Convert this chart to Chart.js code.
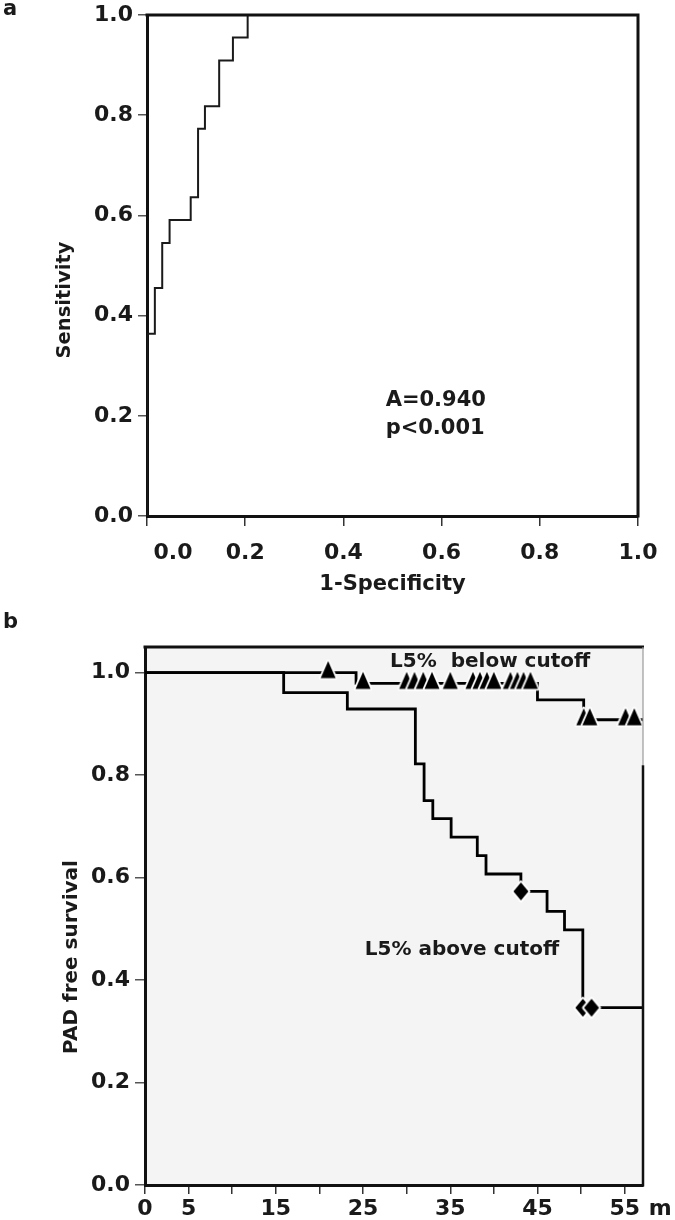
<!DOCTYPE html>
<html><head><meta charset="utf-8">
<script src="https://cdn.jsdelivr.net/npm/chart.js@4/dist/chart.umd.min.js"></script>
<style>
html,body{margin:0;padding:0;background:#fff;}
#wrap{position:relative;width:675px;height:1220px;overflow:hidden;background:#fff;}
canvas{position:absolute;left:0;}
#c1{top:0;} #c2{top:605px;}
</style></head><body>
<div id="wrap"><canvas id="c1" width="675" height="605"></canvas><canvas id="c2" width="675" height="615"></canvas></div>
<script>
// ---------- Panel a: ROC curve ----------
const rocFpr = [0, 0, 0.016, 0.031, 0.046, 0.089, 0.104, 0.118, 0.147, 0.175, 0.205, 1.0];
const rocTpr = [0, 0.364, 0.455, 0.545, 0.591, 0.636, 0.773, 0.818, 0.909, 0.955, 1.0, 1.0];
const rocXTicks = [0, 0.2, 0.4, 0.6, 0.8, 1.0];
const rocYTicks = [0, 0.2, 0.4, 0.6, 0.8, 1.0];
const rocTexts = ['A=0.940', 'p<0.001'];
const rocTextAt = [[0.486, 0.22], [0.486, 0.164]];

// ---------- Panel b: Kaplan-Meier ----------
const kmXTicks = [0, 5, 10, 15, 20, 25, 30, 35, 40, 45, 50, 55];
const kmXLabels = [0, 5, 15, 25, 35, 45, 55];
const kmYTicks = [0, 0.2, 0.4, 0.6, 0.8, 1.0];
const belowTimes = [0, 24.2, 45.0, 50.3, 57.1];
const belowSurv = [1.0, 0.979, 0.947, 0.908, 0.908];
const belowCensorTimes = [21.0, 25.0, 30.0, 30.9, 31.9, 32.9, 35.0, 37.6, 38.4, 39.2, 40.0, 41.9, 42.7, 43.4, 44.2, 50.3, 51.0, 55.1, 56.1];
const belowCensorSurv = [1.0, 0.979, 0.979, 0.979, 0.979, 0.979, 0.979, 0.979, 0.979, 0.979, 0.979, 0.979, 0.979, 0.979, 0.979, 0.908, 0.908, 0.908, 0.908];
const aboveTimes = [0, 15.9, 23.2, 31.0, 32.0, 33.0, 35.1, 38.1, 39.1, 43.1, 46.1, 48.1, 50.2, 57.1];
const aboveSurv = [1.0, 0.961, 0.929, 0.822, 0.750, 0.715, 0.679, 0.643, 0.607, 0.573, 0.534, 0.498, 0.346, 0.346];
const aboveCensorTimes = [43.1, 50.2, 51.2];
const aboveCensorSurv = [0.573, 0.346, 0.346];
const groupLabels = ['L5%  below cutoff', 'L5% above cutoff'];
const groupLabelAt = [[28.1, 1.011], [25.2, 0.449]];

const FAM = "'DejaVu Sans'";
const INK = '#1a1a1a';
const pts = (xs, ys) => xs.map((x, i) => ({x, y: ys[i]}));

// marker images
function triImg() {
  const c = document.createElement('canvas'); c.width = 22; c.height = 28;
  const g = c.getContext('2d');
  g.beginPath(); g.moveTo(11, 2.5); g.lineTo(18.5, 19.5); g.lineTo(3.5, 19.5); g.closePath();
  g.lineJoin = 'round'; g.strokeStyle = '#fff'; g.lineWidth = 3.5; g.stroke();
  g.fillStyle = '#000'; g.fill();
  return c;
}
function diaImg() {
  const c = document.createElement('canvas'); c.width = 22; c.height = 24;
  const g = c.getContext('2d');
  g.beginPath(); g.moveTo(11, 3); g.lineTo(18.5, 12); g.lineTo(11, 21); g.lineTo(3.5, 12); g.closePath();
  g.lineJoin = 'round'; g.strokeStyle = '#fff'; g.lineWidth = 4; g.stroke();
  g.fillStyle = '#000'; g.fill();
  return c;
}

function yScale(min, max, ticks, width, tl) {
  return {
    type: 'linear', position: 'left', min, max,
    afterBuildTicks: s => { s.ticks = ticks.map(v => ({value: v})); },
    afterFit: s => { s.width = width; s.paddingTop = 0; s.paddingBottom = 0; },
    ticks: {font: {family: FAM, weight: 'bold', size: 22}, color: INK, padding: 5,
            autoSkip: false, callback: v => Number(v).toFixed(1)},
    grid: {drawOnChartArea: false, drawTicks: true, tickLength: tl, color: '#555', lineWidth: 1.5},
    border: {display: true, color: '#111', width: 3}
  };
}
function xScale(min, max, ticks, height, tl, pad, cb) {
  return {
    type: 'linear', position: 'bottom', min, max,
    afterBuildTicks: s => { s.ticks = ticks.map(v => ({value: v})); },
    afterFit: s => { s.height = height; s.paddingLeft = 0; s.paddingRight = 0; },
    ticks: {font: {family: FAM, weight: 'bold', size: 22}, color: INK, padding: pad,
            autoSkip: false, maxRotation: 0, minRotation: 0, callback: cb},
    grid: {drawOnChartArea: false, drawTicks: true, tickLength: tl, color: '#333', lineWidth: 1.5},
    border: {display: true, color: '#111', width: 3}
  };
}
function txt(ctx, s, x, y, size, align, base, rot) {
  ctx.save();
  ctx.font = 'bold ' + size + 'px ' + FAM;
  ctx.fillStyle = INK; ctx.textAlign = align || 'left'; ctx.textBaseline = base || 'alphabetic';
  ctx.translate(x, y); if (rot) ctx.rotate(rot);
  ctx.fillText(s, 0, 0); ctx.restore();
}

// ---------- Chart a ----------
new Chart(document.getElementById('c1'), {
  type: 'scatter',
  data: {datasets: [{
    data: pts(rocFpr, rocTpr), showLine: true, stepped: 'before',
    borderColor: '#1a1a1a', borderWidth: 2, pointRadius: 0, fill: false
  }]},
  options: {
    responsive: false, animation: false, devicePixelRatio: 1,
    layout: {padding: {left: 0, right: 37, top: 15, bottom: 0}},
    plugins: {legend: {display: false}, tooltip: {enabled: false}},
    scales: {
      x: xScale(0, 1, rocXTicks, 89, 10, 14, v => v === 0 ? '' : Number(v).toFixed(1)),
      y: yScale(0, 1, rocYTicks, 147, 9)
    }
  },
  plugins: [{
    id: 'decoA',
    afterDraw(chart) {
      const {ctx, chartArea: a, scales: {x, y}} = chart;
      ctx.save();
      ctx.strokeStyle = '#111'; ctx.lineWidth = 3;
      ctx.beginPath(); ctx.moveTo(a.left - 1.5, a.top); ctx.lineTo(a.right, a.top); ctx.lineTo(a.right, a.bottom + 1.5); ctx.stroke();
      ctx.restore();
      const ly = x.top + 10 + 14 + 13.2;
      txt(ctx, '0.0', x.getPixelForValue(0) + 26, ly, 22, 'center', 'middle');
      txt(ctx, '1-Specificity', (a.left + a.right) / 2, 590, 21, 'center');
      txt(ctx, 'Sensitivity', 70, 300, 19.5, 'center', 'alphabetic', -Math.PI / 2);
      rocTexts.forEach((s, i) => txt(ctx, s, x.getPixelForValue(rocTextAt[i][0]), y.getPixelForValue(rocTextAt[i][1]), 21));
      txt(ctx, 'a', 3, 15, 21);
    }
  }]
});

// ---------- Chart b ----------
const tri = triImg(), dia = diaImg();
new Chart(document.getElementById('c2'), {
  type: 'scatter',
  data: {datasets: [
    {data: pts(belowCensorTimes, belowCensorSurv), pointStyle: tri, pointRadius: 8, order: 0, clip: false},
    {data: pts(aboveCensorTimes, aboveCensorSurv), pointStyle: dia, pointRadius: 8, order: 0, clip: false},
    {data: pts(belowTimes, belowSurv), showLine: true, stepped: 'before', borderColor: '#000', borderWidth: 2.8, pointRadius: 0, order: 1},
    {data: pts(aboveTimes, aboveSurv), showLine: true, stepped: 'before', borderColor: '#000', borderWidth: 2.8, pointRadius: 0, order: 1}
  ]},
  options: {
    responsive: false, animation: false, devicePixelRatio: 1,
    layout: {padding: {left: 0, right: 32, top: 42, bottom: 0}},
    plugins: {legend: {display: false}, tooltip: {enabled: false}},
    scales: {
      x: xScale(0, 57.1, kmXTicks, 35, 9, 2, v => kmXLabels.includes(v) ? String(v) : ''),
      y: yScale(0, 1.05, kmYTicks, 145, 10)
    }
  },
  plugins: [{
    id: 'decoB',
    beforeDraw(chart) {
      const {ctx, chartArea: a} = chart;
      ctx.save(); ctx.fillStyle = '#f4f4f4';
      ctx.fillRect(a.left, a.top, a.right - a.left, a.bottom - a.top); ctx.restore();
    },
    afterDraw(chart) {
      const {ctx, chartArea: a, scales: {x, y}} = chart;
      ctx.save();
      ctx.strokeStyle = '#111'; ctx.lineWidth = 3;
      ctx.beginPath(); ctx.moveTo(a.left - 1.5, a.top); ctx.lineTo(a.right + 1, a.top); ctx.stroke();
      const brk = a.top + (a.bottom - a.top) * 0.22;
      ctx.strokeStyle = '#9a9a9a'; ctx.lineWidth = 1.2;
      ctx.beginPath(); ctx.moveTo(a.right, a.top); ctx.lineTo(a.right, brk); ctx.stroke();
      ctx.strokeStyle = '#111'; ctx.lineWidth = 2.5;
      ctx.beginPath(); ctx.moveTo(a.right, brk); ctx.lineTo(a.right, a.bottom + 1.5); ctx.stroke();
      ctx.restore();
      groupLabels.forEach((s, i) => txt(ctx, s, x.getPixelForValue(groupLabelAt[i][0]), y.getPixelForValue(groupLabelAt[i][1]), 20));
      const ly = x.top + 9 + 2 + 13.2;
      txt(ctx, 'm', x.getPixelForValue(55) + 24, ly, 22, 'left', 'middle');
      txt(ctx, 'PAD free survival', 77, 352, 20, 'center', 'alphabetic', -Math.PI / 2);
      txt(ctx, 'b', 3, 23, 21);
    }
  }]
});
</script>
</body></html>
